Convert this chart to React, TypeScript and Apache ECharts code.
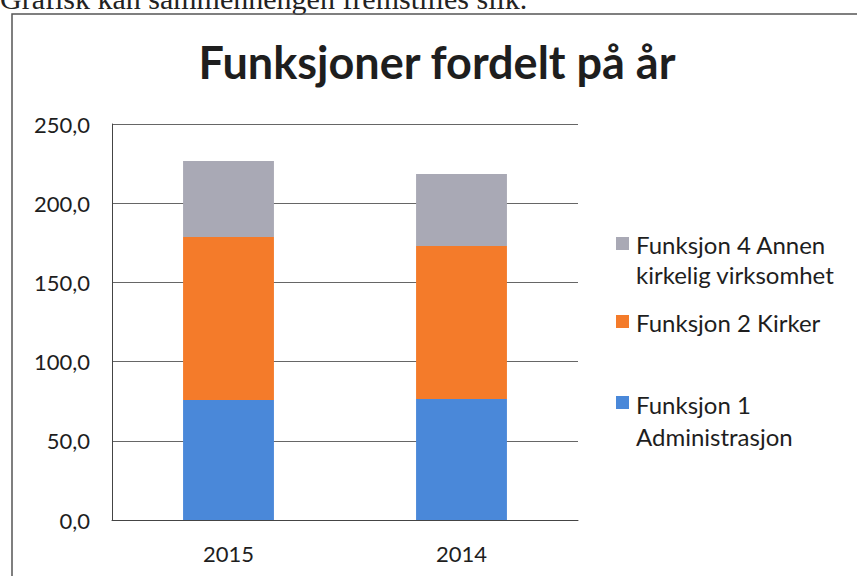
import React, { useEffect, useRef } from "react";
import * as echarts from "echarts";

const categories = ["2015", "2014"];
const funksjon1 = [75.8, 76.4];
const funksjon2 = [102.9, 96.6];
const funksjon4 = [47.9, 45.4];
const yTicks = [0, 50, 100, 150, 200, 250];

const names = [
  "Funksjon 1 Administrasjon",
  "Funksjon 2 Kirker",
  "Funksjon 4 Annen kirkelig virksomhet",
];
const colors = ["#4a88d9", "#f47b2a", "#a9a9b5"];

export default function App() {
  const ref = useRef<HTMLDivElement>(null);
  useEffect(() => {
    const chart = echarts.init(ref.current!, null, { renderer: "svg" });
    const font = "Lato, 'Open Sans', sans-serif";
    const legendFont = "24px Lato, 'Open Sans', sans-serif";
    chart.setOption({
      animation: false,
      backgroundColor: "#ffffff",
      grid: { left: 112, right: 279, top: 124, bottom: 56 },
      xAxis: {
        type: "category",
        data: categories,
        axisTick: { show: false },
        axisLine: { lineStyle: { color: "#444", width: 1 } },
        axisLabel: { color: "#1e1e1e", fontSize: 22, fontFamily: font, margin: 22 },
      },
      yAxis: {
        type: "value",
        min: yTicks[0],
        max: yTicks[yTicks.length - 1],
        interval: 50,
        axisLine: { show: true, lineStyle: { color: "#444", width: 1 } },
        axisTick: { show: false },
        splitLine: { lineStyle: { color: "#666", width: 1 } },
        axisLabel: {
          color: "#1e1e1e",
          fontSize: 22,
          fontFamily: font,
          margin: 22,
          formatter: (v: number) => v.toFixed(1).replace(".", ","),
        },
      },
      series: [
        { name: names[0], type: "bar", stack: "a", data: funksjon1, barWidth: "39%", itemStyle: { color: colors[0] } },
        { name: names[1], type: "bar", stack: "a", data: funksjon2, itemStyle: { color: colors[1] } },
        { name: names[2], type: "bar", stack: "a", data: funksjon4, itemStyle: { color: colors[2] } },
      ],
      graphic: [
        {
          type: "text",
          left: 0,
          top: -17,
          style: { text: "Grafisk kan sammenhengen fremstilles slik.", font: "30px 'Liberation Serif', serif", fill: "#222" },
        },
        {
          type: "rect",
          shape: { x: 12, y: 14, width: 900, height: 600 },
          style: { fill: "none", stroke: "#555", lineWidth: 1.5 },
        },
        {
          type: "text",
          x: 437,
          y: 62,
          style: {
            text: "Funksjoner fordelt på år",
            font: "bold 45px Lato, 'Open Sans', sans-serif",
            fill: "#1e1e1e",
            align: "center",
            verticalAlign: "middle",
          },
        },
        { type: "rect", shape: { x: 616, y: 237, width: 13, height: 13 }, style: { fill: colors[2] } },
        {
          type: "text",
          x: 636,
          y: 229,
          style: { text: "Funksjon 4 Annen\nkirkelig virksomhet", font: legendFont, lineHeight: 30, fill: "#1e1e1e" },
        },
        { type: "rect", shape: { x: 616, y: 315, width: 13, height: 13 }, style: { fill: colors[1] } },
        {
          type: "text",
          x: 636,
          y: 307,
          style: { text: "Funksjon 2 Kirker", font: legendFont, lineHeight: 30, fill: "#1e1e1e" },
        },
        { type: "rect", shape: { x: 616, y: 396, width: 13, height: 13 }, style: { fill: colors[0] } },
        {
          type: "text",
          x: 636,
          y: 388,
          style: { text: "Funksjon 1\nAdministrasjon", font: legendFont, lineHeight: 32, fill: "#1e1e1e" },
        },
      ],
    });
    return () => chart.dispose();
  }, []);
  return (
    <div
      ref={ref}
      style={{ position: "absolute", left: 0, top: 0, width: 857, height: 576 }}
    />
  );
}
